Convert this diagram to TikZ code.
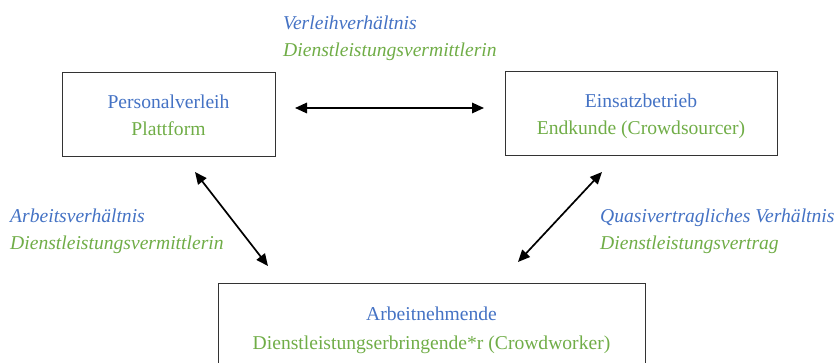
\documentclass[tikz,border=0pt]{standalone}
\usepackage{fontspec}
\setmainfont{Liberation Serif}
\usetikzlibrary{arrows.meta}
\definecolor{lblue}{HTML}{4472C4}
\definecolor{lgreen}{HTML}{70AD47}
\begin{document}
\begin{tikzpicture}[x=1pt,y=-1pt,
  box/.style={draw=black!80, line width=1pt, inner sep=0pt},
  rel/.style={{Triangle[length=12pt,width=10.5pt]}-{Triangle[length=12pt,width=10.5pt]}, line width=1.7pt},
  txt/.style={inner sep=0pt, font=\fontsize{19.6}{27}\selectfont},
  tb/.style={txt, text=lblue},
  tg/.style={txt, text=lgreen}
  ]
\useasboundingbox (0,0) rectangle (838,363);
\clip (0,0) rectangle (838,363);
% boxes
\node[box, minimum width=213pt, minimum height=84pt] (pv) at (168.5,114.5) {};
\node[box, minimum width=272pt, minimum height=84pt] (eb) at (641,113.7) {};
\node[box, minimum width=427pt, minimum height=116pt] (an) at (431.5,342) {};
% box texts
\node[tb, anchor=base] (pv1) at (168.5,109) {Personalverleih};
\node[tg, anchor=base] (pv2) at (168.5,136) {Plattform};
\node[tb, anchor=base] (eb1) at (641,108) {Einsatzbetrieb};
\node[tg, anchor=base] (eb2) at (641,135) {Endkunde (Crowdsourcer)};
\node[tb, anchor=base] (an1) at (431.5,321) {Arbeitnehmende};
\node[tg, anchor=base] (an2) at (431.5,349) {Dienstleistungserbringende*r (Crowdworker)};
% relation labels
\node[tb, anchor=base west] (l1a) at (283,30) {\itshape Verleihverhältnis};
\node[tg, anchor=base west] (l1b) at (283,57) {\itshape Dienstleistungsvermittlerin};
\node[tb, anchor=base west] (l2a) at (10,223) {\itshape Arbeitsverhältnis};
\node[tg, anchor=base west] (l2b) at (10,250) {\itshape Dienstleistungsvermittlerin};
\node[tb, anchor=base west] (l3a) at (600,223) {\itshape Quasivertragliches Verhältnis};
\node[tg, anchor=base west] (l3b) at (600,250) {\itshape Dienstleistungsvertrag};
% connector ends
\coordinate (h1) at (295,108);
\coordinate (h2) at (484,108);
\coordinate (d1) at (195,172);
\coordinate (d2) at (268,266);
\coordinate (e1) at (602,172);
\coordinate (e2) at (518,262);
\draw[rel] (h1) -- (h2);
\draw[rel] (d1) -- (d2);
\draw[rel] (e1) -- (e2);
\end{tikzpicture}
\end{document}
